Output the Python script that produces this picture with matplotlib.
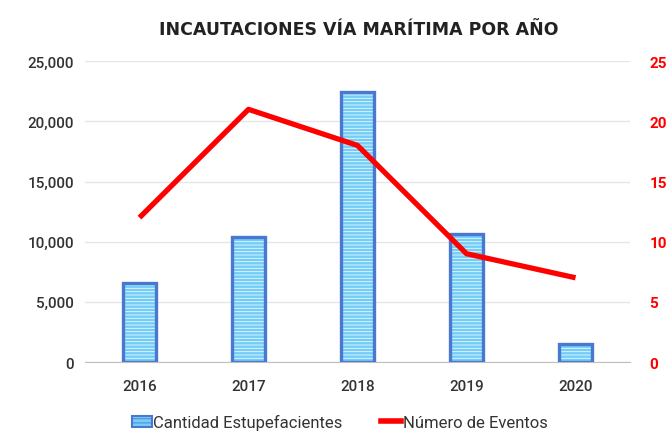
import matplotlib.pyplot as plt
import numpy as np
from matplotlib.patches import Patch
from matplotlib.lines import Line2D

years = ['2016', '2017', '2018', '2019', '2020']
cantidad = [6600, 10400, 22400, 10600, 1500]
eventos = [12, 21, 18, 9, 7]

plt.rcParams['font.family'] = ['Roboto', 'DejaVu Sans']
plt.rcParams['hatch.linewidth'] = 0.6

fig = plt.figure(figsize=(6.66, 4.35), dpi=100)
ax = fig.add_axes([0.1276, 0.1655, 0.8184, 0.6915])
ax2 = ax.twinx()

x = np.arange(len(years))
# hatched fill, then outline on top
ax.bar(x, cantidad, width=0.31, color='#74cdf6', edgecolor='#e8f8ff',
       hatch='-----', linewidth=0, zorder=2)
ax.bar(x, cantidad, width=0.31, facecolor='none', edgecolor='#4a78d0',
       linewidth=2.4, zorder=3)

ax2.plot(x, eventos, color='#ff0000', linewidth=3.8, solid_capstyle='butt')

ax.set_xlim(-0.5, 4.5)
ax.set_ylim(0, 25000)
ax2.set_ylim(0, 25)
ax.set_yticks(range(0, 25001, 5000))
ax.set_yticklabels([f'{v:,}' for v in range(0, 25001, 5000)])
ax2.set_yticks(range(0, 26, 5))
ax.set_xticks(x)
ax.set_xticklabels(years)

ax.grid(axis='y', color='#e6e6e6', linewidth=1, zorder=0)
ax.set_axisbelow(True)
for a in (ax, ax2):
    for s in a.spines.values():
        s.set_visible(False)
ax.spines['bottom'].set_visible(True)
ax.spines['bottom'].set_color('#bfbfbf')
ax.tick_params(axis='both', length=0, labelsize=11, labelcolor='#333333', pad=8)
ax.tick_params(axis='x', pad=12)
ax2.tick_params(axis='y', length=0, labelsize=11, labelcolor='#ff0000', pad=14)
for t in ax.get_yticklabels() + ax.get_xticklabels():
    t.set_fontweight('medium')
for t in ax2.get_yticklabels():
    t.set_fontweight('bold')

fig.text(0.538, 0.93, 'INCAUTACIONES VÍA MARÍTIMA POR AÑO', ha='center', va='center',
         fontsize=12.5, fontweight='bold', color='#222222', family='DejaVu Sans')

handles = [Patch(facecolor='#74cdf6', edgecolor='#4a78d0', hatch='----', linewidth=1.5),
           Line2D([0], [0], color='#ff0000', linewidth=4)]
fig.legend(handles, ['Cantidad Estupefacientes', 'Número de Eventos'],
           loc='center', bbox_to_anchor=(0.51, 0.027), ncol=2, frameon=False,
           fontsize=12, handlelength=1.2, handletextpad=0.1, columnspacing=2.3,
           labelcolor='#333333')

fig.savefig('out.png', dpi=100, facecolor='white')
